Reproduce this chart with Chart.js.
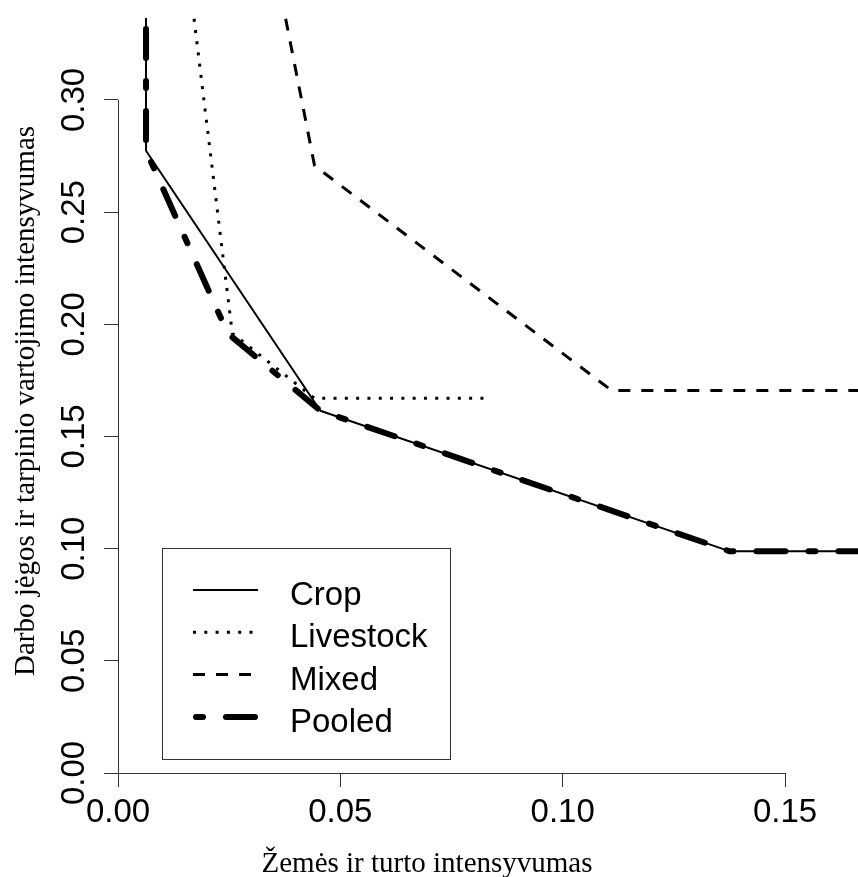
<!DOCTYPE html>
<html>
<head>
<meta charset="utf-8">
<title>Intensyvumas</title>
<script src="https://cdn.jsdelivr.net/npm/chart.js@4.4.1/dist/chart.umd.min.js"></script>
<style>
  html, body { margin: 0; padding: 0; background: #fff; }
  #wrap { width: 858px; height: 877px; }
</style>
</head>
<body>
<div id="wrap"><canvas id="myChart" width="858" height="877"></canvas></div>
<script>
// frontier points
const cropX = [0.0063, 0.0063, 0.0455, 0.1376, 0.1700];
const cropY = [0.3450, 0.2774, 0.1615, 0.0988, 0.0988];

const livestockX = [0.0171, 0.0257, 0.0442, 0.0825];
const livestockY = [0.3362, 0.1960, 0.1670, 0.1670];

const mixedX = [0.0377, 0.0442, 0.1110, 0.1700];
const mixedY = [0.3362, 0.2707, 0.1705, 0.1705];

const pooledX = [0.0063, 0.0063, 0.0247, 0.0455, 0.1376, 0.1700];
const pooledY = [0.3450, 0.2774, 0.1959, 0.1615, 0.0988, 0.0988];

const xTicks = [0, 0.05, 0.10, 0.15];
const yTicks = [0, 0.05, 0.10, 0.15, 0.20, 0.25, 0.30];

const seriesLabels = ["Crop", "Livestock", "Mixed", "Pooled"];
const xTitle = "Žemės ir turto intensyvumas";
const yTitle = "Darbo jėgos ir tarpinio vartojimo intensyvumas";

const sansFont = "'Liberation Sans', Arial, sans-serif";
const serifFont = "'Liberation Serif', 'Times New Roman', serif";

function toPoints(xs, ys) {
  return xs.map((x, i) => ({ x: x, y: ys[i] }));
}

// R style axis lines: only from first to last tick
const axisLines = {
  id: "axisLines",
  afterDraw(chart) {
    const ctx = chart.ctx;
    const xs = chart.scales.x;
    const ys = chart.scales.y;
    const area = chart.chartArea;
    ctx.save();
    ctx.strokeStyle = "#333";
    ctx.lineWidth = 1;
    ctx.beginPath();
    ctx.moveTo(xs.getPixelForValue(xTicks[0]), area.bottom + 0.5);
    ctx.lineTo(xs.getPixelForValue(xTicks[xTicks.length - 1]) + 1, area.bottom + 0.5);
    ctx.moveTo(area.left + 0.5, ys.getPixelForValue(yTicks[0]) + 1);
    ctx.lineTo(area.left + 0.5, ys.getPixelForValue(yTicks[yTicks.length - 1]));
    ctx.stroke();

    // axis titles
    ctx.fillStyle = "#000";
    ctx.font = "29px " + serifFont;
    ctx.textAlign = "center";
    ctx.textBaseline = "alphabetic";
    ctx.fillText(xTitle, 427, 872);
    ctx.translate(34, 401);
    ctx.rotate(-Math.PI / 2);
    ctx.fillText(yTitle, 0, 0);
    ctx.restore();
  }
};

// legend box inside the plot, bottom left
const legendBox = {
  id: "legendBox",
  afterDatasetsDraw(chart) {
    const ctx = chart.ctx;
    ctx.save();
    ctx.fillStyle = "#fff";
    ctx.fillRect(162.5, 548.5, 288, 211);
    ctx.strokeStyle = "#333";
    ctx.lineWidth = 1;
    ctx.strokeRect(162.5, 548.5, 288, 211);

    chart.data.datasets.forEach((ds, i) => {
      const y = 590 + i * 42.3;
      const round = ds.borderCapStyle === "round";
      ctx.beginPath();
      ctx.setLineDash(ds.borderDash || []);
      ctx.lineCap = ds.borderCapStyle || "butt";
      ctx.lineWidth = ds.borderWidth;
      ctx.strokeStyle = ds.borderColor;
      ctx.moveTo(round ? 196 : 193, y);
      ctx.lineTo(round ? 255 : 258, y);
      ctx.stroke();
      ctx.setLineDash([]);

      ctx.fillStyle = "#000";
      ctx.font = "33px " + sansFont;
      ctx.textAlign = "left";
      ctx.textBaseline = "alphabetic";
      ctx.fillText(ds.label, 290, y + 15);
    });
    ctx.restore();
  }
};

const ctx = document.getElementById("myChart");

new Chart(ctx, {
  type: "line",
  data: {
    datasets: [
      {
        label: seriesLabels[0],
        data: toPoints(cropX, cropY),
        borderColor: "#000",
        borderWidth: 2,
        borderDash: [],
        borderCapStyle: "butt"
      },
      {
        label: seriesLabels[1],
        data: toPoints(livestockX, livestockY),
        borderColor: "#000",
        borderWidth: 3,
        borderDash: [3, 8.3],
        borderCapStyle: "butt"
      },
      {
        label: seriesLabels[2],
        data: toPoints(mixedX, mixedY),
        borderColor: "#000",
        borderWidth: 3,
        borderDash: [12, 11],
        borderCapStyle: "butt"
      },
      {
        label: seriesLabels[3],
        data: toPoints(pooledX, pooledY),
        borderColor: "#000",
        borderWidth: 6,
        borderDash: [7, 23, 29, 23],
        borderCapStyle: "round"
      }
    ]
  },
  options: {
    responsive: false,
    animation: false,
    devicePixelRatio: 1,
    layout: { padding: { top: 18, left: 0, right: 0, bottom: 0 } },
    elements: {
      point: { radius: 0, hoverRadius: 0 },
      line: { tension: 0, fill: false, borderJoinStyle: "round" }
    },
    plugins: {
      legend: { display: false },
      tooltip: { enabled: false }
    },
    scales: {
      x: {
        type: "linear",
        min: 0,
        max: 0.1664,
        afterBuildTicks: (s) => { s.ticks = xTicks.map(v => ({ value: v })); },
        afterFit: (s) => { s.height = 104; },
        border: { display: false },
        grid: { drawOnChartArea: false, tickLength: 14, color: "#333", lineWidth: 1 },
        ticks: {
          autoSkip: false,
          maxRotation: 0,
          padding: 6,
          color: "#000",
          font: { family: sansFont, size: 33 },
          callback: (v) => Number(v).toFixed(2)
        }
      },
      y: {
        type: "linear",
        min: 0,
        max: 0.33655,
        afterBuildTicks: (s) => { s.ticks = yTicks.map(v => ({ value: v })); },
        afterFit: (s) => { s.width = 118; },
        border: { display: false },
        grid: { drawOnChartArea: false, tickLength: 14, color: "#333", lineWidth: 1 },
        ticks: {
          autoSkip: false,
          minRotation: 90,
          maxRotation: 90,
          crossAlign: "center",
          padding: -3,
          color: "#000",
          font: { family: sansFont, size: 33 },
          callback: (v) => Number(v).toFixed(2)
        }
      }
    }
  },
  plugins: [axisLines, legendBox]
});
</script>
</body>
</html>
